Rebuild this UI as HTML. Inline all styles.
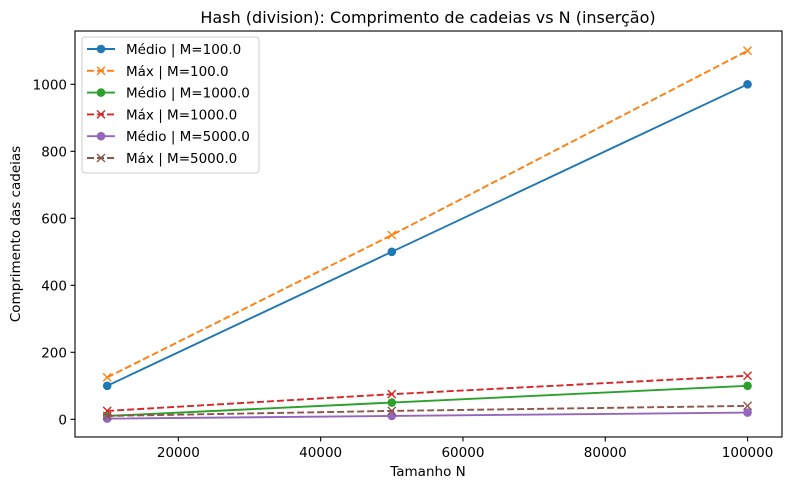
<!DOCTYPE html>
<html><head><meta charset="utf-8"><style>
body{margin:0;background:#fff;font-family:"Liberation Sans","DejaVu Sans",sans-serif}
svg text{font-family:"DejaVu Sans","Liberation Sans",sans-serif}
</style></head><body>
<svg id="c" width="790" height="490"></svg>
<script>
const categories=[10000,50000,100000];
const medio100=[100,500,1000];
const max100=[125,550,1100];
const medio1000=[10,50,100];
const max1000=[25,75,130];
const medio5000=[2,10,20];
const max5000=[10,25,40];
const xTicks=[20000,40000,60000,80000,100000];
const yTicks=[0,200,400,600,800,1000];
const seriesNames=["Médio | M=100.0","Máx | M=100.0","Médio | M=1000.0","Máx | M=1000.0","Médio | M=5000.0","Máx | M=5000.0"];
const seriesData=[medio100,max100,medio1000,max1000,medio5000,max5000];
const colors=["#1f77b4","#ff7f0e","#2ca02c","#d62728","#9467bd","#8c564b"];
const L=75,R=782,T=31,B=437;
const xs=v=>107.2+(v-10000)*(142.3/20000);
const ys=v=>419.3-v*(67/200);
const svg=document.getElementById('c');const NS='http://www.w3.org/2000/svg';
function mk(t,a,p){const e=document.createElementNS(NS,t);for(const k in a)e.setAttribute(k,a[k]);(p||svg).appendChild(e);return e;}
function marker(g,kind,x,y,c){
 if(kind==='o'){mk('circle',{cx:x,cy:y,r:4.3,fill:c},g);}
 else{mk('path',{d:`M${x-4},${y-4}L${x+4},${y+4}M${x-4},${y+4}L${x+4},${y-4}`,stroke:c,'stroke-width':1.4,fill:'none'},g);}
}
seriesData.forEach((d,i)=>{
 const g=mk('g',{});
 
 
 const pts=d.map((v,j)=>xs(categories[j])+','+ys(v)).join(' ');
 const a={points:pts,fill:'none',stroke:colors[i],'stroke-width':1.9};
 if(i%2)a['stroke-dasharray']='7,3';
 mk('polyline',a,g);
 d.forEach((v,j)=>marker(g,i%2?'x':'o',xs(categories[j]),ys(v),colors[i]));
});
const frame=mk('rect',{x:L,y:T,width:R-L,height:B-T,fill:'none',stroke:'#000','stroke-width':1.1});


xTicks.forEach(v=>{const x=xs(v);mk('line',{x1:x,x2:x,y1:B,y2:B+4.5,stroke:'#000','stroke-width':1.1});
 const t=mk('text',{x:x,y:B+20,'text-anchor':'middle','font-size':13.5});t.textContent=v;
 
 });
yTicks.forEach(v=>{const y=ys(v);mk('line',{x1:L-4.5,x2:L,y1:y,y2:y,stroke:'#000','stroke-width':1.1});
 const t=mk('text',{x:L-8,y:y+5,'text-anchor':'end','font-size':13.5});t.textContent=v;
 
 });
let t=mk('text',{x:428,y:476,'text-anchor':'middle','font-size':13.5});t.textContent='Tamanho N';


t=mk('text',{x:0,y:0,'text-anchor':'middle','font-size':13.5,transform:'translate(20,234) rotate(-90)'});t.textContent='Comprimento das cadeias';


t=mk('text',{x:428,y:23,'text-anchor':'middle','font-size':16});t.textContent='Hash (division): Comprimento de cadeias vs N (inserção)';


const lg=mk('g',{});


mk('rect',{x:82,y:37,width:177,height:136,rx:3,fill:'#fff','fill-opacity':0.8,stroke:'#ccc','stroke-width':1},lg);
seriesNames.forEach((n,i)=>{
 const y=49+i*21.8;
 const e=mk('g',{},lg);
 
 
 const a={x1:87,x2:115,y1:y,y2:y,stroke:colors[i],'stroke-width':1.9};
 if(i%2)a['stroke-dasharray']='7,3';
 mk('line',a,e);
 marker(e,i%2?'x':'o',101,y,colors[i]);
 const tt=mk('text',{x:126,y:y+5,'font-size':13.5},e);tt.textContent=n;
});
</script>
</body></html>
